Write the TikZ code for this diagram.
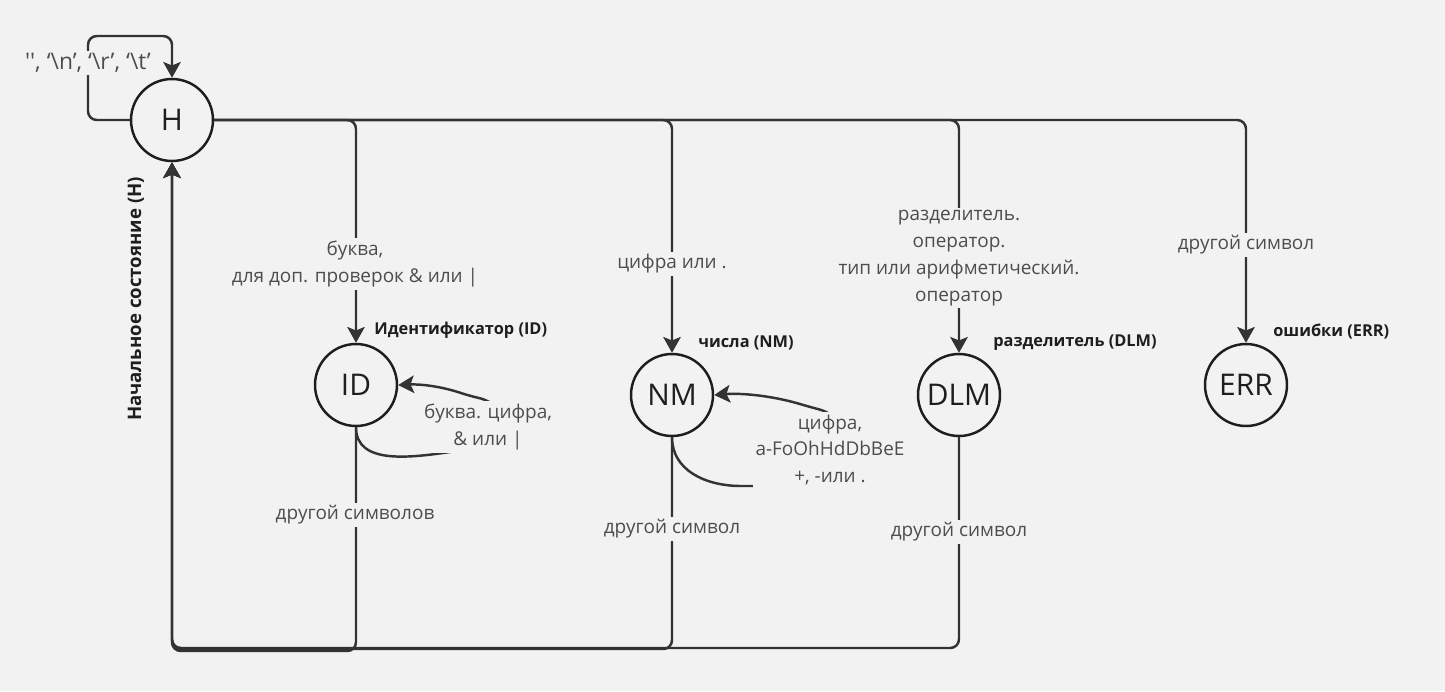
\documentclass[tikz,border=0pt]{standalone}
\usepackage{fontspec}
\setmainfont{Open Sans}[Ligatures=TeXOff]
\usetikzlibrary{arrows.meta}
\definecolor{BgNC}{HTML}{F2F2F2}
\definecolor{LineNC}{HTML}{333333}
\definecolor{TextNC}{HTML}{4D4D4D}
\definecolor{DarkNC}{HTML}{1E1E1E}
\newcommand\txtloop{'', ‘\textbackslash n’, ‘\textbackslash r’, ‘\textbackslash t’}
\newcommand\txtother{другой символ}
\tikzstyle{st} = [circle, draw=DarkNC, line width=1.4pt, minimum size=1.64cm, inner sep=0pt, text=DarkNC, font=\fontsize{17}{17}\selectfont]
\tikzstyle{lb} = [fill=BgNC, text=TextNC, font=\fontsize{10.8}{15.3}\selectfont, align=center, inner sep=1.5pt]
\tikzstyle{tl} = [text=DarkNC, font=\bfseries\fontsize{9.3}{11}\selectfont, anchor=west, inner sep=0pt]
\tikzstyle{ln} = [->, LineNC, line width=1.4pt, rounded corners=5pt]
\tikzset{>={Stealth[length=9pt, width=10pt, inset=2pt]}}

\begin{document}
\begin{tikzpicture}[x=0.02cm, y=-0.02cm]
\fill[BgNC] (0,0) rectangle (1445,691);
\useasboundingbox (0,0) rectangle (1445,691);
\node[st] (h) at (172,120) {H};
\node[st] (id) at (356,385) {ID};
\node[st] (nm) at (672,395) {NM};
\node[st] (dlm) at (959,395) {DLM};
\node[st] (err) at (1246,385) {ERR};
\coordinate (hloop) at (88,36);
\coordinate (botid) at (172,651);
\coordinate (botnm) at (172,649);
\coordinate (botdlm) at (172,648);
\draw[ln] (h.west) -| (hloop) -| (h.north);
\draw[ln] (h.east) -| (id);
\draw[ln] (h.east) -| (nm);
\draw[ln] (h.east) -| (dlm);
\draw[ln] (h.east) -| (err);
\draw[ln] (id.south) |- (botid) -- (h.south);
\draw[ln] (nm.south) |- (botnm) -- (h.south);
\draw[ln] (dlm.south) |- (botdlm) -- (h.south);
\draw[ln] (id.south) .. controls (356,465) and (410,458) .. (463,450) .. controls (510,440) and (510,405) .. (470,396) .. controls (440,386) and (420,384) .. (id.east);
\draw[ln] (nm.south) .. controls (672,470) and (705,486) .. (750,486) .. controls (860,486) and (860,420) .. (810,407) .. controls (770,395) and (740,393) .. (nm.east);
% transition labels
\node[lb, font=\fontsize{13}{15}\selectfont] (lbloop) at (88,63) {\txtloop};
\node[lb] (lbid) at (355,264) {буква,\\для доп. проверок \& или |};
\node[lb] (lbidloop) at (488,427) {буква. цифра,\\\& или |};
\node[lb] (lbidout) at (355,515) {другой символов};
\node[lb] (lbnm) at (672,264) {цифра или .};
\node[lb] (lbnmloop) at (830,450) {цифра,\\a-FoOhHdDbBeE\\+, -или .};
\node[lb] (lbnmout) at (672,529) {\txtother};
\node[lb] (lbdlm) at (959,258) {разделитель.\\оператор.\\тип или арифметический.\\оператор};
\node[lb] (lbdlmout) at (959,532) {\txtother};
\node[lb] (lberr) at (1246,245) {\txtother};
% state names
\node[tl] (idname) at (374,330) {Идентификатор (ID)};
\node[tl] (nmname) at (698,343) {числа (NM)};
\node[tl] (dlmname) at (993,343) {разделитель (DLM)};
\node[tl] (errname) at (1273,332) {ошибки (ERR)};
\node[tl, rotate=90, anchor=center, font=\bfseries\fontsize{10.6}{12}\selectfont] (hname) at (136,299) {Начальное состояние (H)};
\end{tikzpicture}
\end{document}
